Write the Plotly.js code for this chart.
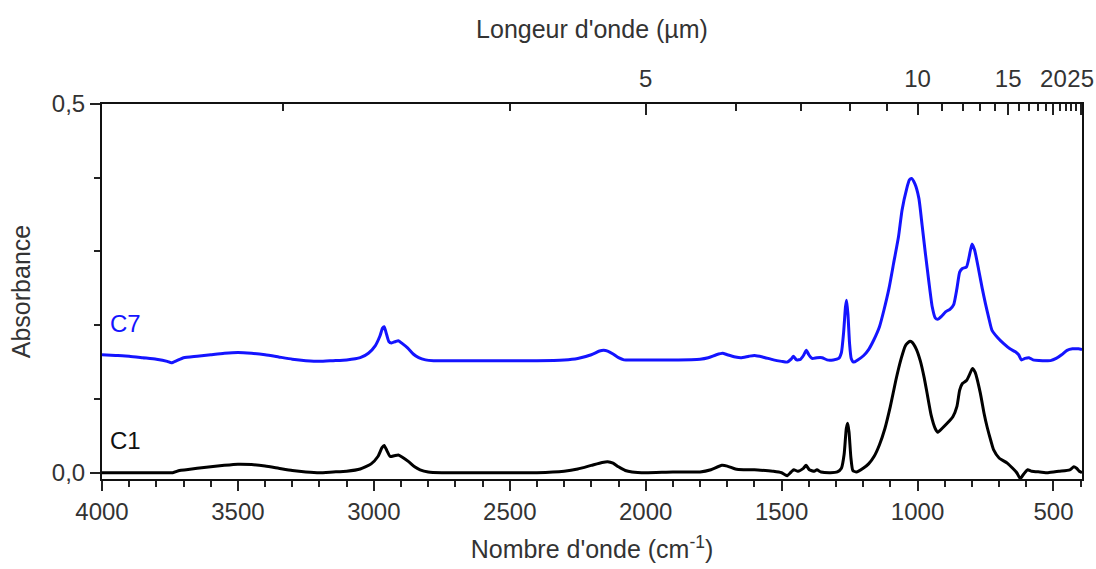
<!DOCTYPE html>
<html>
<head>
<meta charset="utf-8">
<script src="https://cdn.plot.ly/plotly-3.0.1.min.js"></script>
<style>html,body{margin:0;padding:0;background:#fff;}#chart{width:1096px;height:569px;}</style>
</head>
<body>
<div id="chart"></div>
<script>
// ---- Data ----
const c1Wavenumber = [4000,3900,3800,3740,3715,3690,3650,3600,3550,3500,3450,3400,3350,3300,3250,3200,3150,3100,3050,3010,2985,2970,2962,2952,2940,2925,2910,2895,2872,2850,2830,2800,2750,2600,2400,2300,2250,2200,2160,2140,2120,2100,2075,2050,2000,1900,1800,1760,1720,1700,1670,1640,1600,1560,1530,1500,1480,1465,1455,1440,1420,1410,1398,1380,1370,1355,1320,1295,1280,1270,1262,1257,1252,1245,1238,1225,1200,1180,1160,1140,1120,1100,1080,1060,1045,1030,1020,1005,990,975,965,950,935,925,910,891,870,855,845,835,820,810,798,788,769,755,744,730,720,700,670,650,635,622,610,595,580,550,520,480,440,425,415,405,395];
const c1Absorbance = [0.000,0.000,0.000,0.000,0.003,0.004,0.006,0.008,0.010,0.0115,0.011,0.009,0.006,0.003,0.001,0.000,0.001,0.002,0.005,0.012,0.022,0.034,0.037,0.030,0.022,0.023,0.024,0.021,0.015,0.008,0.004,0.001,0.000,0.000,0.000,0.002,0.005,0.010,0.014,0.015,0.013,0.008,0.003,0.001,0.000,0.001,0.001,0.004,0.010,0.009,0.005,0.004,0.004,0.003,0.002,0.000,-0.004,0.001,0.004,0.002,0.006,0.010,0.004,0.002,0.004,0.001,0.000,0.001,0.006,0.025,0.060,0.067,0.055,0.020,0.003,0.001,0.006,0.012,0.022,0.038,0.060,0.090,0.125,0.155,0.172,0.178,0.177,0.168,0.152,0.128,0.108,0.078,0.060,0.055,0.060,0.067,0.076,0.090,0.112,0.121,0.125,0.132,0.1415,0.136,0.108,0.080,0.062,0.043,0.031,0.020,0.013,0.006,0.000,-0.008,-0.002,0.004,0.002,0.001,0.000,0.002,0.004,0.008,0.006,0.002,0.000];

const c7Wavenumber = [4000,3950,3900,3850,3800,3760,3745,3725,3700,3650,3600,3550,3500,3450,3400,3350,3300,3250,3200,3150,3100,3050,3020,2995,2978,2968,2962,2955,2945,2935,2920,2910,2895,2875,2855,2835,2810,2780,2600,2400,2300,2250,2200,2170,2155,2140,2120,2100,2080,2000,1900,1800,1770,1740,1717,1700,1670,1650,1620,1600,1570,1530,1500,1480,1465,1457,1445,1430,1418,1409,1400,1388,1370,1351,1333,1310,1290,1280,1272,1265,1261,1256,1250,1244,1235,1220,1198,1180,1161,1140,1124,1105,1088,1070,1057,1040,1030,1022,1010,995,983,971,958,946,935,926,912,897,880,867,855,845,835,820,810,800,790,775,762,750,738,726,705,683,660,640,628,618,605,590,575,540,511,490,470,450,430,408,395];
const c7Absorbance = [0.160,0.159,0.158,0.156,0.154,0.151,0.149,0.152,0.156,0.158,0.160,0.162,0.163,0.162,0.160,0.157,0.154,0.152,0.151,0.152,0.153,0.156,0.162,0.172,0.185,0.196,0.198,0.190,0.178,0.176,0.178,0.179,0.175,0.169,0.161,0.156,0.153,0.152,0.152,0.152,0.153,0.155,0.160,0.165,0.166,0.165,0.161,0.156,0.153,0.153,0.153,0.154,0.156,0.160,0.162,0.160,0.157,0.156,0.158,0.159,0.157,0.153,0.151,0.150,0.154,0.158,0.153,0.154,0.160,0.166,0.160,0.155,0.156,0.156,0.153,0.153,0.155,0.163,0.190,0.225,0.234,0.215,0.175,0.155,0.150,0.153,0.159,0.167,0.180,0.198,0.220,0.250,0.284,0.320,0.356,0.385,0.397,0.399,0.392,0.372,0.335,0.297,0.258,0.225,0.210,0.208,0.212,0.218,0.222,0.228,0.250,0.272,0.277,0.279,0.293,0.310,0.302,0.275,0.250,0.229,0.210,0.193,0.183,0.175,0.168,0.164,0.160,0.153,0.155,0.156,0.153,0.152,0.152,0.155,0.160,0.166,0.168,0.168,0.167];

const seriesNames = ["C1", "C7"];
const bottomTickVals = [4000,3500,3000,2500,2000,1500,1000,500];
const bottomTickText = ["4000","3500","3000","2500","2000","1500","1000","500"];
const bottomMinorVals = [3900,3800,3700,3600,3400,3300,3200,3100,2900,2800,2700,2600,2400,2300,2200,2100,1900,1800,1700,1600,1400,1300,1200,1100,900,800,700,600,400];
const yTickVals = [0, 0.5];
const yTickText = ["0,0", "0,5"];
const yMinorVals = [0.1,0.2,0.3,0.4];
const topMajorMicrons = [5,10,15,20,25];
const topMinorMicrons = [3,4,6,7,8,9,11,12,13,14,16,17,18,19,21,22,23,24];

// ---- Layout ----
const FONT = "Liberation Sans, Arial, sans-serif";
const TXT = "#333333";
const TICKSIZE = 24;
const TITLESIZE = 25;
const xRange = [4000, 395];
const yRange = [-0.0085, 0.5];

const traces = [
  {x: c1Wavenumber, y: c1Absorbance, name: seriesNames[0], type: "scatter", mode: "lines",
   line: {color: "#000000", width: 3, shape: "spline", smoothing: 0.5}, xaxis: "x", yaxis: "y"},
  {x: c7Wavenumber, y: c7Absorbance, name: seriesNames[1], type: "scatter", mode: "lines",
   line: {color: "#1414ff", width: 3, shape: "spline", smoothing: 0.5}, xaxis: "x", yaxis: "y"},
  // invisible trace to activate the top (wavelength) axis
  {x: [xRange[0]], y: [yRange[0]], type: "scatter", mode: "markers", marker: {opacity: 0},
   xaxis: "x2", yaxis: "y", hoverinfo: "skip", showlegend: false}
];

const layout = {
  width: 1096, height: 569,
  margin: {l: 102, r: 14, t: 104, b: 90},
  paper_bgcolor: "#ffffff", plot_bgcolor: "#ffffff",
  showlegend: false,
  font: {family: FONT, size: TICKSIZE, color: TXT},
  xaxis: {
    range: xRange, autorange: false,
    tickmode: "array", tickvals: bottomTickVals, ticktext: bottomTickText, tickangle: 0,
    ticks: "outside", ticklen: 10, tickwidth: 2, tickcolor: "#222",
    minor: {tickmode: "array", tickvals: bottomMinorVals, ticks: "outside", ticklen: 6, tickwidth: 2, tickcolor: "#222"},
    showline: true, linecolor: "#111", linewidth: 2, mirror: false,
    showgrid: false, zeroline: false,
    tickfont: {family: FONT, size: TICKSIZE, color: TXT},
    title: {text: "Nombre d'onde (cm<sup>-1</sup>)", font: {family: FONT, size: TITLESIZE, color: TXT}, standoff: 17}
  },
  xaxis2: {
    overlaying: "x", side: "top", anchor: "y",
    range: xRange, autorange: false,
    tickmode: "array",
    tickvals: topMajorMicrons.map(m => 10000 / m),
    ticktext: topMajorMicrons.map(m => String(m)),
    tickangle: 0,
    ticks: "inside", ticklen: 11, tickwidth: 2, tickcolor: "#222",
    minor: {tickmode: "array", tickvals: topMinorMicrons.map(m => 10000 / m), ticks: "inside", ticklen: 7, tickwidth: 2, tickcolor: "#222"},
    showline: true, linecolor: "#111", linewidth: 2,
    showgrid: false, zeroline: false,
    tickfont: {family: FONT, size: TICKSIZE, color: TXT},
    ticklabelstandoff: 5,
    title: {text: "Longeur d'onde (µm)", font: {family: FONT, size: TITLESIZE, color: TXT}, standoff: 20}
  },
  yaxis: {
    range: yRange, autorange: false,
    tickmode: "array", tickvals: yTickVals, ticktext: yTickText,
    ticks: "outside", ticklen: 10, tickwidth: 2, tickcolor: "#222",
    minor: {tickmode: "array", tickvals: yMinorVals, ticks: "outside", ticklen: 6, tickwidth: 2, tickcolor: "#222"},
    showline: true, linecolor: "#111", linewidth: 2, mirror: true,
    showgrid: false, zeroline: false,
    tickfont: {family: FONT, size: TICKSIZE, color: TXT},
    title: {text: "Absorbance", font: {family: FONT, size: TITLESIZE, color: TXT}, standoff: 14}
  },
  annotations: [
    {text: seriesNames[1], x: 3978, y: 0.203, xref: "x", yref: "y", xanchor: "left", yanchor: "middle", showarrow: false,
     font: {family: FONT, size: TICKSIZE, color: "#1414ff"}},
    {text: seriesNames[0], x: 3978, y: 0.044, xref: "x", yref: "y", xanchor: "left", yanchor: "middle", showarrow: false,
     font: {family: FONT, size: TICKSIZE, color: "#111"}}
  ]
};

Plotly.newPlot("chart", traces, layout, {displayModeBar: false, staticPlot: true});
</script>
</body>
</html>
